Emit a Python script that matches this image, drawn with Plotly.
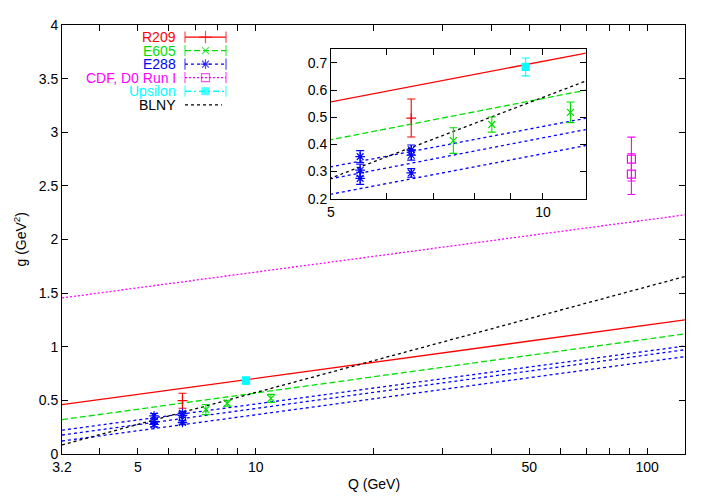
import math
import plotly.graph_objects as go

# ---------------- data ----------------
Q_LINE = [3.2, 125]                 # end points of the fitted curves (straight in log Q)
R209_LINE = [0.46, 1.25]
E605_LINE = [0.32, 1.12]
E288_LINE_A = [0.222, 1.007]
E288_LINE_B = [0.177, 0.972]
E288_LINE_C = [0.121, 0.908]
RUNI_LINE = [1.455, 2.23]
BLNY_LINE = [0.085, 1.655]

R209_Q = [6.5]
R209_G = [0.497]
R209_ERR = [0.07]

E605_Q = [7.46, 8.46, 10.94]
E605_G = [0.414, 0.473, 0.518]
E605_ERR = [0.047, 0.028, 0.038]

E288_Q = [5.5, 5.5, 5.5, 6.5, 6.5, 6.5]
E288_G = [0.355, 0.305, 0.275, 0.38, 0.36, 0.295]
E288_ERR = [0.022, 0.022, 0.022, 0.018, 0.018, 0.016]

RUNI_Q = [91.2, 91.2]
RUNI_G = [2.75, 2.61]
RUNI_ERR = [0.205, 0.19]

UPS_Q = [9.45]
UPS_G = [0.685]
UPS_ERR = [0.033]

MAIN_XTICKS = [3.2, 4, 5, 6, 7, 8, 9, 10, 20, 30, 40, 50, 60, 70, 80, 90, 100]
MAIN_XLABELS = ["3.2", "", "5", "", "", "", "", "10", "", "", "", "50", "", "", "", "", "100"]
INSET_XTICKS = [5, 6, 7, 8, 9, 10]
INSET_XLABELS = ["5", "", "", "", "", "10"]

LEGEND_NAMES = ["R209", "E605", "E288", "CDF, D0 Run I", "Upsilon", "BLNY"]

# ---------------- style ----------------
RED = "#ff0000"
GREEN = "#00e000"
BLUE = "#0000ff"
MAGENTA = "#ff00ff"
CYAN = "#00ffff"
BLACK = "#000000"
FONT = "Liberation Sans, Arial, Helvetica, sans-serif"
FS = 14
LW = 1.3

DASH_RED = "solid"
DASH_GREEN = "6px,3px"
DASH_BLUE = "3px,3px"
DASH_MAG = "2px,2px"
DASH_CYAN = "6px,3px,2px,3px"
DASH_BLACK = "3px,3px"

OFF = 8                      # default page body margin
PAGE_W, PAGE_H = 708, 496
W, H = PAGE_W - OFF, PAGE_H - OFF
# plot area on the page: x 62..685, y 17..454
ML, MT = 62 - OFF, 17 - OFF
MR, MB = PAGE_W - 685, PAGE_H - 454
PW, PH = W - ML - MR, H - MT - MB


def px_x(p):
    return (p - 62) / PW


def px_y(p):
    return (454 - p) / PH


fig = go.Figure()

line_specs = [
    (R209_LINE, RED, DASH_RED),
    (E605_LINE, GREEN, DASH_GREEN),
    (E288_LINE_A, BLUE, DASH_BLUE),
    (E288_LINE_B, BLUE, DASH_BLUE),
    (E288_LINE_C, BLUE, DASH_BLUE),
    (RUNI_LINE, MAGENTA, DASH_MAG),
    (BLNY_LINE, BLACK, DASH_BLACK),
]

point_specs = [
    (R209_Q, R209_G, R209_ERR, RED, "cross-thin", 7),
    (E605_Q, E605_G, E605_ERR, GREEN, "x-thin", 7),
    (E288_Q, E288_G, E288_ERR, BLUE, "asterisk", 8),
    (RUNI_Q, RUNI_G, RUNI_ERR, MAGENTA, "square-open", 8),
    (UPS_Q, UPS_G, UPS_ERR, CYAN, "square", 7),
]

for xa, ya in (("x", "y"), ("x2", "y2")):
    for vals, col, dash in line_specs:
        fig.add_trace(go.Scatter(
            x=Q_LINE, y=vals, mode="lines", xaxis=xa, yaxis=ya,
            line=dict(color=col, width=LW, dash=dash),
            showlegend=False, hoverinfo="skip"))
    for qs, gs, es, col, sym, size in point_specs:
        fig.add_trace(go.Scatter(
            x=qs, y=gs, mode="markers", xaxis=xa, yaxis=ya,
            marker=dict(symbol=sym, size=size, color=col,
                        line=dict(color=col, width=1.2)),
            error_y=dict(type="data", array=es, color=col,
                         thickness=1.1, width=4),
            showlegend=False, hoverinfo="skip"))

# ---------------- hand-made gnuplot style key ----------------
legend_styles = [
    (RED, DASH_RED, "cross-thin", 9, True),
    (GREEN, DASH_GREEN, "x-thin", 7, True),
    (BLUE, DASH_BLUE, "asterisk", 8, True),
    (MAGENTA, DASH_MAG, "square-open", 8, True),
    (CYAN, DASH_CYAN, "square", 7, True),
    (BLACK, DASH_BLACK, None, 0, False),
]
for i, (name, (col, dash, sym, size, caps)) in enumerate(zip(LEGEND_NAMES, legend_styles)):
    row = 5 - i
    if caps:
        fig.add_trace(go.Scatter(
            x=[0, 1], y=[row, row], mode="lines", xaxis="x3", yaxis="y3",
            line=dict(color=col, width=LW, dash=dash),
            showlegend=False, hoverinfo="skip"))
        fig.add_trace(go.Scatter(
            x=[0, 0.5, 1], y=[row, row, row], mode="markers", xaxis="x3", yaxis="y3",
            marker=dict(symbol=["line-ns", sym, "line-ns"], size=[8, size, 8], color=col,
                        line=dict(color=col, width=1.2)),
            showlegend=False, hoverinfo="skip"))
    else:
        fig.add_trace(go.Scatter(
            x=[0, 0.9], y=[row, row], mode="lines", xaxis="x3", yaxis="y3",
            line=dict(color=col, width=LW, dash=dash),
            showlegend=False, hoverinfo="skip"))
    fig.add_annotation(
        text=name, xref="paper", yref="y3", x=px_x(178), y=row,
        xanchor="right", yanchor="middle", showarrow=False,
        font=dict(family=FONT, size=FS, color=col))

axis_common = dict(
    showline=True, linecolor="black", linewidth=1, mirror="ticks",
    ticks="inside", ticklen=6, tickcolor="black", tickwidth=1,
    showgrid=False, zeroline=False,
    tickfont=dict(family=FONT, size=FS, color="black"))

fig.update_layout(
    width=W, height=H,
    margin=dict(l=ML, r=MR, t=MT, b=MB, pad=0),
    paper_bgcolor="white", plot_bgcolor="white",
    showlegend=False,
    xaxis=dict(type="log", range=[math.log10(3.2), math.log10(125)], domain=[0, 1],
               anchor="y", tickvals=MAIN_XTICKS, ticktext=MAIN_XLABELS, **axis_common),
    yaxis=dict(range=[0, 4], domain=[0, 1], anchor="x",
               tickvals=[0, 0.5, 1, 1.5, 2, 2.5, 3, 3.5, 4],
               ticktext=["0", "0.5", "1", "1.5", "2", "2.5", "3", "3.5", "4"], **axis_common),
    xaxis2=dict(type="log", range=[math.log10(5), math.log10(11.5)],
                domain=[px_x(331), px_x(585.7)], anchor="y2",
                tickvals=INSET_XTICKS, ticktext=INSET_XLABELS, **axis_common),
    yaxis2=dict(range=[0.2, 0.75], domain=[px_y(194), px_y(41.7)], anchor="x2",
                tickvals=[0.2, 0.3, 0.4, 0.5, 0.6, 0.7],
                ticktext=["0.2", "0.3", "0.4", "0.5", "0.6", "0.7"], **axis_common),
    xaxis3=dict(range=[-0.05, 1.05], domain=[px_x(182.95), px_x(228.05)], anchor="y3",
                visible=False, fixedrange=True),
    yaxis3=dict(range=[-0.5, 5.5], domain=[px_y(105.2), px_y(22.4)], anchor="x3",
                visible=False, fixedrange=True),
)

fig.add_annotation(text="g (GeV<sup>2</sup>)", xref="paper", yref="paper",
                   x=px_x(20), y=0.5, textangle=-90, showarrow=False,
                   xanchor="center", yanchor="middle",
                   font=dict(family=FONT, size=FS, color="black"))
fig.add_annotation(text="Q (GeV)", xref="paper", yref="paper",
                   x=0.5, y=px_y(485), showarrow=False,
                   xanchor="center", yanchor="middle",
                   font=dict(family=FONT, size=FS, color="black"))

fig.write_html("out.html")
